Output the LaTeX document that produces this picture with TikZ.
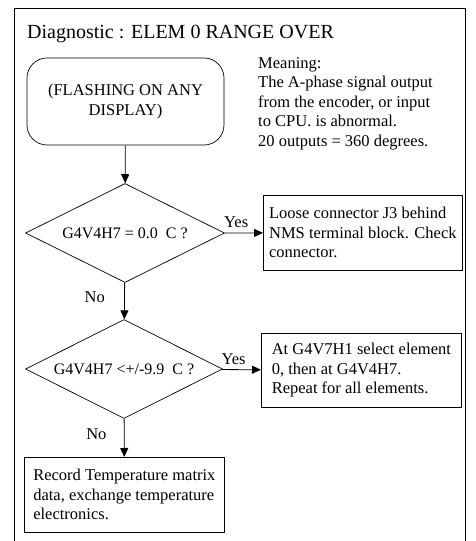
\documentclass[tikz,border=0pt]{standalone}
\usepackage{fontspec}
\setmainfont{Liberation Serif}
\usetikzlibrary{shapes.geometric,arrows.meta}
\begin{document}
\begin{tikzpicture}[x=1pt, y=1pt,
  every node/.style={font=\fontsize{16.5}{19.5}\selectfont},
  flow/.style={draw, line width=0.8pt, -{Triangle[length=9pt, width=8pt]}},
  decision/.style={draw, diamond, inner sep=0pt, shape aspect=2, line width=0.7pt, font=\fontsize{16}{19}\selectfont},
  textbox/.style={draw, line width=0.7pt, anchor=north west, align=left, inner sep=3pt}]
  \useasboundingbox (0, 0) rectangle (475, 541);
  \draw[line width=0.9pt] (14, 0) -- (14, 533) -- (465, 533) -- (465, 0);
  \node[anchor=base west, inner sep=0pt, font=\fontsize{20}{24}\selectfont] (title) at (27, 502) {Diagnostic : ELEM 0 RANGE OVER};
  \node[draw, rounded corners=20pt, line width=0.7pt, align=center, minimum width=197pt, minimum height=87pt] (flash) at (125.5, 439.5) {(FLASHING ON ANY\\DISPLAY)};
  \node[anchor=north west, align=left, inner sep=0pt] (meaning) at (258, 484) {Meaning:\\The A-phase signal output\\from the encoder, or input\\to CPU. is abnormal.\\20 outputs = 360 degrees.};
  \node[decision, minimum width=199pt, minimum height=99pt] (zero) at (125, 308) {G4V4H7 = 0.0~~C ?};
  \node[textbox, minimum width=199pt, minimum height=75pt] (loose) at (263, 346) {Loose connector J3 behind\\NMS terminal block. Check\\connector.};
  \node[decision, minimum width=197pt, minimum height=99pt] (range) at (124, 172) {G4V4H7 <+/-9.9~~C ?};
  \node[textbox, minimum width=200pt, minimum height=74pt] (select) at (261, 208) {At G4V7H1 select element\\0, then at G4V4H7.\\Repeat for all elements.};
  \node[textbox, minimum width=200pt, minimum height=75pt] (record) at (24, 84) {Record Temperature matrix\\data, exchange temperature\\electronics.};
  \draw[flow] (flash) -- (zero);
  \draw[flow] (zero) -- node[pos=0.3, above, inner sep=5pt] {Yes} (loose);
  \draw[flow] (zero) -- node[pos=0.4, anchor=east, xshift=-16pt] {No} (range);
  \draw[flow] (range) -- node[pos=0.3, above, inner sep=5pt] {Yes} (select);
  \draw[flow] (range) -- node[pos=0.4, anchor=east, xshift=-14pt] {No} (record);
\end{tikzpicture}
\end{document}
